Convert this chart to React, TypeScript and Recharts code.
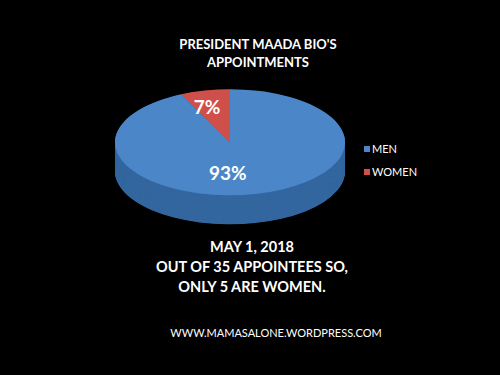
import { PieChart, Pie, Cell } from 'recharts';

const categories = ['MEN', 'WOMEN'];
const shares = [93, 7];
const titleLines = ["PRESIDENT MAADA BIO'S", 'APPOINTMENTS'];
const noteLines = ['MAY 1, 2018', 'OUT OF 35 APPOINTEES SO,', 'ONLY 5 ARE WOMEN.'];
const footer = 'WWW.MAMASALONE.WORDPRESS.COM';

const TOP_COLORS = ['#4a86c8', '#cf504b'];
const SIDE_COLORS = ['#34679f', '#9c3b38'];

// fake 3D: the whole pie is squashed vertically, side built from stacked layers
const K = 53 / 115;
const CX = 225;
const CY = 140 / K;
const R = 115;
const DEPTH = Math.round(29 / K);
const FONT = 'Lato, "Open Sans", sans-serif';

const data = categories.map((name, i) => ({ name, value: shares[i] }));
const layers = Array.from({ length: DEPTH }, (_, i) => DEPTH - i);

function renderLabel(props: any) {
  const { cx, cy, midAngle, outerRadius, percent, index } = props;
  const angle = percent > 0.5 ? -92 : midAngle + 4;
  const rad = (angle * Math.PI) / 180;
  const r = outerRadius * (percent > 0.5 ? 0.57 : 0.7);
  const x = cx + r * Math.cos(rad);
  const y = cy - r * Math.sin(rad);
  return (
    <text
      key={`lbl-${index}`}
      transform={`translate(${x},${y}) scale(1,${1 / K})`}
      textAnchor="middle"
      dominantBaseline="central"
      fill="#fff"
      fontSize={19}
      fontWeight={700}
      fontFamily={FONT}
    >
      {`${shares[index]}%`}
    </text>
  );
}

export default function App() {
  return (
    <div
      style={{
        position: 'absolute',
        left: 0,
        top: 0,
        width: 500,
        height: 375,
        background: '#000',
        overflow: 'hidden',
        fontFamily: FONT,
        color: '#fff',
      }}
    >
      <div style={{ position: 'absolute', top: 35, left: 158, width: 200, textAlign: 'center', fontSize: 13, fontWeight: 700, lineHeight: '18px' }}>
        {titleLines.map((t) => (
          <div key={t}>{t}</div>
        ))}
      </div>

      <div style={{ position: 'absolute', left: 0, top: 0, width: 500, height: 540, transform: `scaleY(${K})`, transformOrigin: 'top left' }}>
        <PieChart width={500} height={540}>
          {layers.map((d) => (
            <Pie
              key={`side-${d}`}
              data={data}
              dataKey="value"
              cx={CX}
              cy={CY + d}
              outerRadius={R}
              startAngle={90}
              endAngle={-270}
              stroke="none"
              isAnimationActive={false}
            >
              {data.map((entry, i) => (
                <Cell key={entry.name} fill={SIDE_COLORS[i]} />
              ))}
            </Pie>
          ))}
          <Pie
            data={data}
            dataKey="value"
            cx={CX}
            cy={CY}
            outerRadius={R}
            startAngle={90}
            endAngle={-270}
            stroke="none"
            label={renderLabel}
            labelLine={false}
            isAnimationActive={false}
          >
            {data.map((entry, i) => (
              <Cell key={entry.name} fill={TOP_COLORS[i]} />
            ))}
          </Pie>
        </PieChart>
      </div>

      <div style={{ position: 'absolute', left: 364, top: 137, fontSize: 11, lineHeight: '23px' }}>
        {categories.map((c, i) => (
          <div key={c} style={{ display: 'flex', alignItems: 'center' }}>
            <span style={{ width: 6, height: 6, background: TOP_COLORS[i], marginRight: 2 }} />
            {c}
          </div>
        ))}
      </div>

      <div style={{ position: 'absolute', top: 237, left: 100, width: 304, textAlign: 'center', fontSize: 14.5, fontWeight: 700, lineHeight: '20px' }}>
        {noteLines.map((t) => (
          <div key={t}>{t}</div>
        ))}
      </div>

      <div style={{ position: 'absolute', top: 326, left: 126, width: 300, textAlign: 'center', fontSize: 11 }}>
        {footer}
      </div>
    </div>
  );
}
